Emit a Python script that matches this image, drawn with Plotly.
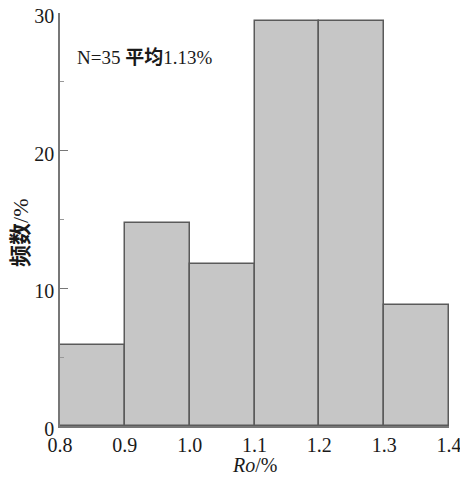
import plotly.graph_objects as go

bin_left = [0.8, 0.9, 1.0, 1.1, 1.2, 1.3]
bin_width = 0.1
freq_pct = [5.88, 14.71, 11.76, 29.41, 29.41, 8.82]
x_ticks = [0.8, 0.9, 1.0, 1.1, 1.2, 1.3, 1.4]
y_ticks = [0, 10, 20, 30]

serif = "'Liberation Serif', 'Times New Roman', 'Noto Sans CJK SC', serif"
OFF = 8  # page body margin
W, H = 468 - OFF, 477 - OFF
# plot area in reference (window) pixels
X0, X1, Y0, Y1 = 60, 449, 13, 426
L, R, T, B = X0 - OFF, 468 - X1, Y0 - OFF, 477 - Y1
pw, ph = W - L - R, H - T - B

def px(x):
    return (x - X0) / pw

def py(y):
    return 1 - (y - Y0) / ph

fig = go.Figure()
fig.add_trace(go.Bar(
    x=bin_left, y=freq_pct, width=[bin_width] * len(bin_left), offset=0,
    marker=dict(color="#c6c6c6", line=dict(color="#5a5a5a", width=1.5)),
    showlegend=False, hoverinfo="x+y",
))

fig.update_layout(
    width=W, height=H,
    margin=dict(l=L, r=R, t=T, b=B),
    plot_bgcolor="white", paper_bgcolor="white",
    font=dict(family=serif, size=20, color="#1a1a1a"),
    bargap=0,
    xaxis=dict(range=[0.8, 1.4], tickvals=x_ticks, tickformat=".1f",
               showline=True, linecolor="#777", linewidth=1.5,
               ticks="", showgrid=False, zeroline=False, automargin=False,
               ticklabeloverflow="allow",
               tickfont=dict(family=serif, size=20, color="#1a1a1a")),
    yaxis=dict(range=[0, 30], tickvals=y_ticks,
               showline=True, linecolor="#777", linewidth=1.5,
               ticks="inside", ticklen=8, tickcolor="#777", tickwidth=1.2,
               minor=dict(dtick=5, ticks="inside", ticklen=4, tickcolor="#999"),
               showgrid=False, zeroline=False, automargin=False,
               ticklabeloverflow="allow", ticklabelshift=3,
               tickfont=dict(family=serif, size=20, color="#1a1a1a")),
    annotations=[
        dict(text="N=35 <b>平均</b>1.13%", x=px(75), y=py(57), xref="paper", yref="paper",
             xanchor="left", yanchor="middle",
             showarrow=False, font=dict(family=serif, size=19, color="#1a1a1a")),
        dict(text="<i>Ro</i>/%", xref="paper", yref="paper", x=px(254), y=py(465),
             xanchor="center", yanchor="middle", showarrow=False,
             font=dict(family=serif, size=20, color="#1a1a1a")),
        dict(text="<b>频数</b>/%", xref="paper", yref="paper", x=px(20), y=py(233),
             xanchor="center", yanchor="middle", textangle=-90, showarrow=False,
             font=dict(family=serif, size=22, color="#1a1a1a")),
    ],
)

fig.write_html("out.html")
